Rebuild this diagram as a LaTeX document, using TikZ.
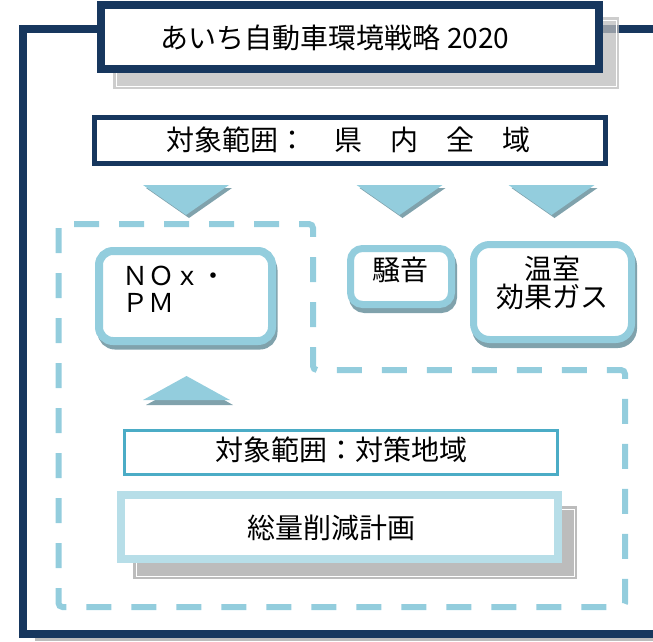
\documentclass[tikz,border=0pt]{standalone}
\usepackage{fontspec}
\setmainfont{Noto Sans CJK JP}
\usetikzlibrary{shadows}
\definecolor{framenavy}{RGB}{23,55,94}
\definecolor{paleblue}{RGB}{147,205,221}
\definecolor{tealblue}{RGB}{75,172,198}
\definecolor{iceblue}{RGB}{183,222,232}
\definecolor{shadowgrey}{RGB}{188,188,188}
\definecolor{tipshadow}{RGB}{128,162,172}
\tikzset{
  squarebox/.style={draw=framenavy, fill=white, inner sep=0pt},
  roundbox/.style={draw=paleblue, fill=white, inner sep=0pt, line width=7pt,
    drop shadow={shadow xshift=2pt, shadow yshift=-5pt, fill=tipshadow,
      draw=tipshadow, line width=7pt, opacity=1}},
  label/.style={inner sep=0pt, font=\fontsize{28pt}{28pt}\selectfont, align=center},
}
\begin{document}
\begin{tikzpicture}[x=1pt,y=-1pt]
    \useasboundingbox (0,0) rectangle (653,641);
    \clip (0,0) rectangle (653,641);
    % outer frame
    \fill [shadowgrey] (35,637) rectangle (660,641);
    \draw [framenavy, line width=8pt] (660,29) -- (23,29) -- (23,634) -- (660,634);
    % title
    \fill [shadowgrey, fill opacity=0.75] (113,17) rectangle (619,89);
    \draw [white, line width=0.8pt] (116,20) rectangle (616,86);
    \node [squarebox, line width=8pt, minimum width=498pt, minimum height=64pt] (title) at (350,37) {};
    \node [label] (titletext) at (335,38) {あいち自動車環境戦略 2020};
    % scope
    \node [squarebox, line width=5pt, minimum width=511pt, minimum height=46pt] (scope) at (350,140.5) {};
    \node [label] (scopetext) at (348,140) {対象範囲：　県　内　全　域};
    % arrows
    \foreach \cx in {186, 399.5, 551.5}{
        \fill [tipshadow] ({\cx-43+3},188) -- ({\cx+43+3},188) -- ({\cx+3},218) -- cycle;
        \fill [paleblue] ({\cx-43},185) -- ({\cx+43},185) -- (\cx,215) -- cycle;
    }
    \fill [tipshadow] (146,405) -- (233,405) -- (190.5,381) -- cycle;
    \fill [paleblue] (143,400) -- (230,400) -- (186.5,376) -- cycle;
    % dashed area
    \draw [paleblue, line width=6pt, dash pattern=on 25pt off 20pt, rounded corners=4pt]
        (58.5,224) -- (58.5,607) -- (625,607) -- (625,370) -- (313,370) -- (313,224) -- cycle;
    % pollutants
    \node [roundbox, rounded corners=14pt, line width=8pt, minimum width=173pt, minimum height=90pt] (noxpm) at (185.5,296) {};
    \node [label, font=\fontsize{26pt}{27pt}\selectfont, align=left, anchor=west] (noxpmtext) at (122,289.5) {ＮＯｘ・\\ＰＭ};
    \node [roundbox, rounded corners=12pt, minimum width=101pt, minimum height=56pt] (noise) at (401,276.5) {};
    \node [label] (noisetext) at (400,270) {騒音};
    \node [roundbox, rounded corners=16pt, minimum width=158pt, minimum height=95pt] (ghg) at (552.5,292) {};
    \node [label] (ghgtext) at (552,283) {温室\\効果ガス};
    % target area
    \node [squarebox, draw=tealblue, line width=3pt, minimum width=433pt, minimum height=44pt] (area) at (341,452.5) {};
    \node [label] (areatext) at (341,450) {対象範囲：対策地域};
    % plan
    \fill [shadowgrey] (133,506) rectangle (577,579);
    \draw [white, line width=0.8pt] (136,509) rectangle (574,576);
    \node [squarebox, draw=iceblue, line width=8pt, minimum width=437pt, minimum height=64pt] (plan) at (339.5,527) {};
    \node [label] (plantext) at (331,528) {総量削減計画};
\end{tikzpicture}
\end{document}
